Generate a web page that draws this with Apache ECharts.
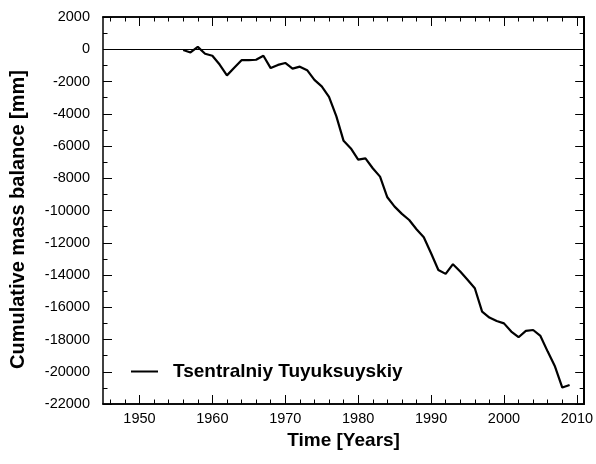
<!DOCTYPE html>
<html>
<head>
<meta charset="utf-8">
<script src="https://cdn.jsdelivr.net/npm/echarts@6/dist/echarts.min.js"></script>
<style>
  html, body { margin: 0; padding: 0; background: #fff; }
  #chart { width: 596px; height: 464px; }
</style>
</head>
<body>
<div id="chart"></div>
<script>
// 年份与累计物质平衡 (mm)
const years = [
  1956, 1957, 1958, 1959, 1960, 1961, 1962, 1963, 1964, 1965,
  1966, 1967, 1968, 1969, 1970, 1971, 1972, 1973, 1974, 1975,
  1976, 1977, 1978, 1979, 1980, 1981, 1982, 1983, 1984, 1985,
  1986, 1987, 1988, 1989, 1990, 1991, 1992, 1993, 1994, 1995,
  1996, 1997, 1998, 1999, 2000, 2001, 2002, 2003, 2004, 2005,
  2006, 2007, 2008, 2009
];
const balance = [
  -50, -200, 150, -280, -400, -950, -1620, -1150, -680, -680,
  -650, -400, -1170, -970, -850, -1200, -1080, -1300, -1900, -2300,
  -2950, -4150, -5680, -6150, -6850, -6770, -7380, -7900, -9180, -9760,
  -10210, -10590, -11160, -11660, -12650, -13690, -13930, -13330, -13780, -14300,
  -14820, -16270, -16640, -16850, -17000, -17510, -17860, -17470, -17410, -17780,
  -18750, -19680, -20980, -20820
];
const seriesName = 'Tsentralniy Tuyuksuyskiy';
const xMajor = [1950, 1960, 1970, 1980, 1990, 2000, 2010];
const xMinor = [];
for (let y = 1946; y <= 2010; y += 2) xMinor.push(y);

const FONT = '"Liberation Sans", Arial, sans-serif';
const chart = echarts.init(document.getElementById('chart'));

function xAx(pos, ticks, len, showLabel, extra) {
  return Object.assign({
    type: 'value',
    position: pos,
    min: 1945,
    max: 2011,
    axisLine: { show: true, onZero: false, lineStyle: { color: '#000', width: 1.5 } },
    axisTick: { show: true, inside: true, length: len, customValues: ticks,
      lineStyle: { color: '#000', width: 1 } },
    axisLabel: { show: showLabel, customValues: xMajor, formatter: v => String(v),
      color: '#000', fontSize: 14.5, fontFamily: FONT, margin: 7 },
    splitLine: { show: false }
  }, extra || {});
}

function yAx(pos, showLabel, extra) {
  return Object.assign({
    type: 'value',
    position: pos,
    min: -22000,
    max: 2000,
    interval: 2000,
    axisLine: { show: true, onZero: false, lineStyle: { color: '#000', width: 1.5 } },
    axisTick: { show: true, inside: true, length: 9, lineStyle: { color: '#000', width: 1 } },
    minorTick: { show: true, splitNumber: 2, length: 4.5, lineStyle: { color: '#000', width: 1 } },
    axisLabel: { show: showLabel, formatter: v => String(v),
      color: '#000', fontSize: 14.5, fontFamily: FONT, margin: 13 },
    splitLine: { show: false },
    minorSplitLine: { show: false }
  }, extra || {});
}

const option = {
  animation: false,
  backgroundColor: '#fff',
  grid: { left: 102, top: 17, right: 11, bottom: 60 },
  legend: {
    left: 126,
    top: 357,
    icon: 'rect',
    itemWidth: 27,
    itemHeight: 2,
    data: [seriesName],
    textStyle: { color: '#000', fontSize: 19, fontWeight: 'bold', fontFamily: FONT,
      padding: [0, 0, 0, 10] }
  },
  xAxis: [
    xAx('bottom', xMajor, 9, true, {
      name: 'Time [Years]', nameLocation: 'middle', nameGap: 26,
      nameTextStyle: { color: '#000', fontSize: 19, fontWeight: 'bold', fontFamily: FONT }
    }),
    xAx('bottom', xMinor, 4.5, false),
    xAx('top', xMajor, 9, false),
    xAx('top', xMinor, 4.5, false)
  ],
  yAxis: [
    yAx('left', true, {
      name: 'Cumulative mass balance [mm]', nameLocation: 'middle', nameGap: 75,
      nameTextStyle: { color: '#000', fontSize: 20, fontWeight: 'bold', fontFamily: FONT,
        padding: [0, 18, 0, 0] }
    }),
    yAx('right', false, { axisLine: { show: true, onZero: false, lineStyle: { color: '#000', width: 2 } } })
  ],
  series: [{
    name: seriesName,
    type: 'line',
    xAxisIndex: 0,
    yAxisIndex: 0,
    data: years.map((y, i) => [y, balance[i]]),
    symbol: 'none',
    itemStyle: { color: '#000' },
    lineStyle: { color: '#000', width: 2.2 },
    markLine: {
      silent: true,
      symbol: 'none',
      label: { show: false },
      lineStyle: { color: '#000', width: 1, type: 'solid' },
      data: [{ yAxis: 0 }]
    }
  }]
};
chart.setOption(option);
</script>
</body>
</html>
